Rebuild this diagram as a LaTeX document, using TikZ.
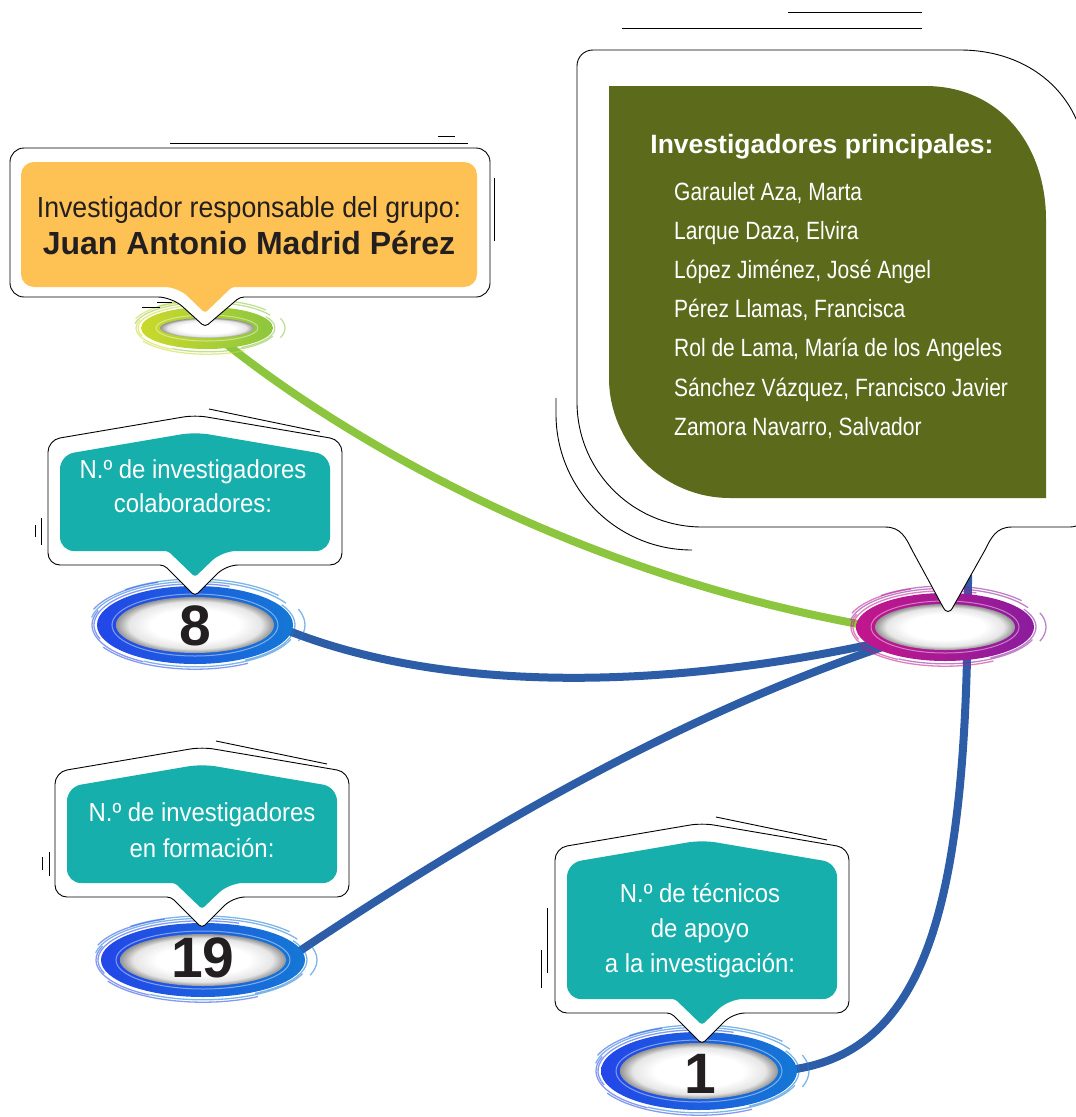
\documentclass[tikz,border=0pt]{standalone}
\usepackage{fontspec}
\setmainfont{Liberation Sans}
\newfontfamily\narrowfont[FakeStretch=0.92]{Liberation Sans}
\newfontfamily\namefont[FakeStretch=0.84]{Liberation Sans}
\usetikzlibrary{shapes.geometric}

\definecolor{ink}{HTML}{231F20}
\definecolor{orangebox}{HTML}{FDC154}
\definecolor{olivebox}{HTML}{5C6A1C}
\definecolor{tealbox}{HTML}{16AFAC}
\definecolor{greenlink}{HTML}{8CC63F}
\definecolor{bluelink}{HTML}{2E5DA8}
\definecolor{ringblueA}{HTML}{2346E8}
\definecolor{ringblueB}{HTML}{1478D5}
\definecolor{ringpinkA}{HTML}{C2168D}
\definecolor{ringpinkB}{HTML}{8B1C9D}
\definecolor{ringgreenA}{HTML}{CAD92A}
\definecolor{ringgreenB}{HTML}{8DC63F}

\pgfdeclareradialshading{ringglow}{\pgfpoint{0bp}{0bp}}{color(0bp)=(white); color(14bp)=(white); color(21bp)=(black!10); color(25bp)=(black!42); color(50bp)=(black!42)}
\pgfdeclarelayer{bg}
\pgfsetlayers{bg,main}

\tikzset{
  ringcore/.style={ellipse, inner sep=0pt, shade, shading=ringglow},
  link/.style={line width=8pt, bluelink},
  bubbleline/.style={line width=0.9pt, fill=white},
  tealtext/.style={anchor=base, text=white, font=\narrowfont\fontsize{26}{30}\selectfont},
  nametext/.style={anchor=base west, inner sep=0pt, text=white, font=\namefont\fontsize{25}{30}\selectfont},
  numtext/.style={anchor=base, text=ink, font=\bfseries\fontsize{57}{60}\selectfont},
}

% brush ring: name, x, y, x radius, y radius, left colour, right colour
\newcommand{\brushring}[7]{%
  \shade[left color=#6, right color=#7] (#2,#3) ellipse ({#4+19} and {#5+11});
  \foreach \a/\b/\d/\c [evaluate=\d as \bx using {#4+\d}, evaluate=\d as \by using {#5+0.6*\d}]
      in {160/290/22/#6, 190/330/26/#7, 330/420/21/#7, 20/120/23/#7, 120/200/24/#6,
          230/320/30/#7, 60/150/27/#6, 340/380/31/#7, 200/250/29/#6}
    \draw[\c, line width=1.3pt, opacity=.55] ({#2+\bx*cos(\a)},{#3+\by*sin(\a)})
      arc[start angle=\a, end angle=\b, x radius=\bx, y radius=\by];
  \draw[white, opacity=.45, line width=1pt] (#2,#3) ellipse ({#4+4} and {#5+3});
  \node[ringcore, minimum width={2*#4}, minimum height={2*#5}] (#1) at (#2,#3) {};
}

% teal callout: x of peak, y of peak, height
\newcommand{\tealcallout}[3]{%
  \draw[bubbleline, rounded corners=12] ({#1-80},{#2+#3}) -- ({#1-147},{#2+#3}) -- ({#1-147},{#2+25})
    -- (#1,#2) -- ({#1+147},{#2+25}) -- ({#1+147},{#2+#3}) -- ({#1+31},{#2+#3})
    [rounded corners=4] -- (#1,{#2+#3+31}) -- ({#1-31},{#2+#3}) -- cycle;
  \fill[tealbox, rounded corners=14] ({#1-80},{#2+#3-14}) -- ({#1-135},{#2+#3-14}) -- ({#1-135},{#2+40})
    -- (#1,{#2+17}) -- ({#1+135},{#2+40}) -- ({#1+135},{#2+#3-14}) -- ({#1+27},{#2+#3-14})
    [rounded corners=3] -- (#1,{#2+#3+12}) -- ({#1-27},{#2+#3-14}) -- cycle;
  \draw[line width=0.9pt] ({#1+14},{#2-6}) -- ({#1+125},{#2+17});
}

\begin{document}
\begin{tikzpicture}[x=1pt,y=-1pt]
\clip (0,0) rectangle (1076,1117);

% rings
\brushring{rg}{207}{328}{47}{10}{ringgreenA}{ringgreenB}
\brushring{hub}{945}{627}{70}{23}{ringpinkA}{ringpinkB}
\brushring{r8}{195}{625}{79}{28}{ringblueA}{ringblueB}
\brushring{r19}{203}{960}{83}{26}{ringblueA}{ringblueB}
\brushring{r1}{699}{1071}{79}{28}{ringblueA}{ringblueB}
\coordinate (drop) at (968,575);

% links
\begin{pgfonlayer}{bg}
\draw[link, greenlink] (rg.-40) .. controls (320,420) and (550,570) .. (hub.west);
\draw[link] (r8.east) .. controls (450,700) and (700,690) .. (hub.center);
\draw[link] (r19.east) .. controls (480,830) and (700,700) .. (hub.center);
\draw[link] (r1.east) .. controls (930,1060) and (968,900) .. (drop);
\end{pgfonlayer}

% principal researchers
\draw[line width=0.9pt] (622,28) -- (922,28);
\draw[line width=0.9pt] (788,12) -- (922,12);
\draw[line width=0.9pt] (556,398) -- (556,414) .. controls (556,489) and (617,550) .. (692,550);
\draw[bubbleline] (577,402) -- (577,66) .. controls (577,57) and (584,50) .. (593,50) -- (960,50)
  .. controls (1030,50) and (1082,95) .. (1086,160) -- (1086,510) .. controls (1086,520) and (1080,527) .. (1070,527)
  -- (1012,527) .. controls (996,527) and (991,538) .. (985,550) -- (953,607)
  .. controls (950,613) and (946,613) .. (943,607) -- (912,550) .. controls (906,538) and (901,527) .. (885,527)
  -- (702,527) .. controls (633,527) and (577,471) .. (577,402) -- cycle;
\fill[olivebox] (609,86) -- (925,86) .. controls (1000,86) and (1046,145) .. (1046,220) -- (1046,498)
  -- (730,498) .. controls (664,498) and (609,444) .. (609,378) -- cycle;
\node[anchor=base, text=white, font=\bfseries\fontsize{26.5}{30}\selectfont] (heading) at (822,153) {Investigadores principales:};
\foreach \who [count=\i] in {{Garaulet Aza, Marta}, {Larque Daza, Elvira}, {López Jiménez, José Angel},
    {Pérez Llamas, Francisca}, {Rol de Lama, María de los Angeles}, {Sánchez Vázquez, Francisco Javier},
    {Zamora Navarro, Salvador}}
  \node[nametext] (name\i) at (674,{200+39.2*(\i-1)}) {\who};

% group leader
\draw[line width=0.9pt] (170,143) -- (468,143);
\draw[line width=0.9pt] (438,136) -- (455,136);
\draw[line width=0.9pt] (494,178) -- (494,241);
\draw[line width=0.9pt] (142,307) -- (160,307);
\draw[line width=0.9pt] (157,302) -- (172,302);
\draw[bubbleline, rounded corners=14] (300,297) -- (490,297) -- (490,148) -- (10,148) -- (10,297) -- (172,297)
  [rounded corners=4] -- (205,327) -- (240,297) -- cycle;
\fill[orangebox, rounded corners=13] (300,287) -- (477,287) -- (477,162) -- (21,162) -- (21,287) -- (178,287)
  [rounded corners=3] -- (205,313) -- (232,287) -- cycle;
\node[anchor=base, text=ink, font=\narrowfont\fontsize{29}{32}\selectfont] (lead) at (249,217) {Investigador responsable del grupo:};
\node[anchor=base, text=ink, font=\bfseries\fontsize{32}{36}\selectfont] (leadname) at (249,254) {Juan Antonio Madrid Pérez};

% counts
\tealcallout{195}{415}{150}
\draw[line width=0.9pt] (35,525) -- (35,537);
\draw[line width=0.9pt] (41,518) -- (41,545);
\node[tealtext] (t8a) at (193,478) {N.º de investigadores};
\node[tealtext] (t8b) at (193,512) {colaboradores:};
\node[numtext] (n8) at (195,645) {8};

\tealcallout{202}{747}{150}
\draw[line width=0.9pt] (42,857) -- (42,870);
\draw[line width=0.9pt] (49,852) -- (49,876);
\node[tealtext] (t19a) at (202,821) {N.º de investigadores};
\node[tealtext] (t19b) at (202,857) {en formación:};
\node[numtext] (n19) at (203,977) {19};

\tealcallout{702}{823}{190}
\draw[line width=0.9pt] (541,950) -- (541,988);
\draw[line width=0.9pt] (547,908) -- (547,973);
\node[tealtext] (t1a) at (700,902) {N.º de técnicos};
\node[tealtext] (t1b) at (700,937) {de apoyo};
\node[tealtext] (t1c) at (700,972) {a la investigación:};
\node[numtext] (n1) at (700,1093) {1};

\end{tikzpicture}
\end{document}
